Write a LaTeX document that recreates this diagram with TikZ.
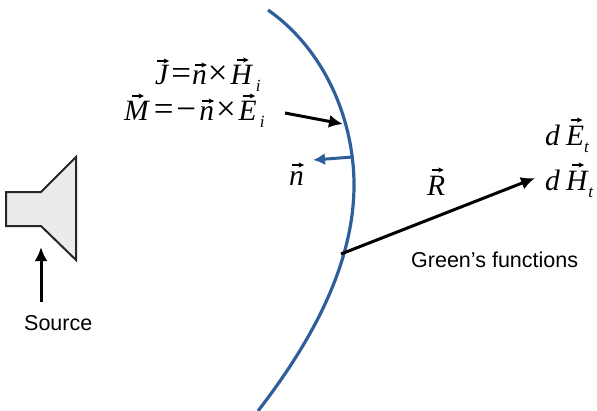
\documentclass[tikz,border=0pt]{standalone}
\usepackage{fontspec}
\setmainfont{Liberation Serif}
\newfontfamily\labelfont{Liberation Sans}
\usetikzlibrary{arrows.meta}
\newcommand{\arrowglyph}{\tikz[x=1pt,y=1pt,baseline=0pt,line cap=butt]{\useasboundingbox (0,0) rectangle (12,0);\draw[line width=1.2pt] (0,0) -- (8,0);\fill (6.5,-2.6) -- (12,0) -- (6.5,2.6) -- (7.8,0) -- cycle;}}
\newcommand{\vvr}[2]{\setbox0=\hbox{\itshape #2}\rlap{\hbox to \wd0{\hss\kern3pt\raisebox{#1}{\arrowglyph}\hss}}\box0 }
\newcommand{\subsc}[1]{\raisebox{-7pt}{\fontsize{17}{17}\selectfont\itshape #1}}
\newcommand{\opr}[1]{{\fontsize{35}{35}\selectfont #1}}
\definecolor{surf}{HTML}{2F5F9B}
\tikzset{
 x=1pt,y=-1pt,
 blackarrow/.style={draw=black,line width=3pt,-{Latex[length=14pt,width=13pt]}},
 bluearrow/.style={draw=surf,line width=3pt,-{Latex[length=12pt,width=12pt]}},
 surface/.style={draw=surf,line width=3.2pt},
 mathlabel/.style={inner sep=0pt,font=\fontsize{29.5}{32}\selectfont},
 sans/.style={inner sep=0pt,font=\labelfont\fontsize{21.5}{24}\selectfont},
 horn/.style={draw=black!85,line width=2pt,fill=black!8,line join=miter},
}
\begin{document}
\begin{tikzpicture}
\useasboundingbox (0,0) rectangle (597,410);
\clip (0,0) rectangle (597,410);
\draw[surface] (268,10) .. controls (325,50) and (354,120) .. (354,185)
  .. controls (354,270) and (305,350) .. (258,411);
\draw[horn] (6,192) -- (41,192) -- (76,157) -- (76,260) -- (41,226) -- (6,226) -- cycle;

\coordinate (sourceTail) at (41,302);
\coordinate (sourceTip) at (41,247);
\draw[blackarrow] (sourceTail) -- (sourceTip);
\coordinate (currentTail) at (285,113);
\coordinate (currentTip) at (343,124);
\draw[blackarrow] (currentTail) -- (currentTip);
\coordinate (normalTail) at (353,157);
\coordinate (normalTip) at (313,160);
\draw[bluearrow] (normalTail) -- (normalTip);
\coordinate (rayTail) at (341,254);
\coordinate (rayTip) at (535,178);
\draw[blackarrow] (rayTail) -- (rayTip);

\node[mathlabel,anchor=base west] (jeq) at (155,84) {\vvr{23pt}{J}\kern3pt\opr{=}\kern1pt\vvr{19pt}{n}\kern1pt\opr{×}\kern3pt\vvr{24pt}{H}\kern4pt\subsc{i}};
\node[mathlabel,anchor=base west] (meq) at (124,120) {\vvr{24pt}{M}\kern5pt\opr{=}\kern3pt\opr{−}\kern3pt\vvr{19pt}{n}\kern2pt\opr{×}\kern3pt\vvr{24pt}{E}\kern3pt\subsc{i}};
\node[mathlabel,anchor=base west] (nlab) at (289,185) {\vvr{20pt}{n}};
\node[mathlabel,anchor=base west] (rlab) at (427,195) {\vvr{25pt}{R}};
\node[mathlabel,anchor=base west] (elab) at (545,145) {\textit{d}\kern6pt\vvr{25pt}{E}\subsc{t}};
\node[mathlabel,anchor=base west] (hlab) at (545,190) {\textit{d}\kern6pt\vvr{25pt}{H}\kern1pt\subsc{t}};
\node[sans,anchor=base west] (green) at (411,267) {Green’s functions};
\node[sans,anchor=base west] (source) at (24,330) {Source};
\end{tikzpicture}
\end{document}
